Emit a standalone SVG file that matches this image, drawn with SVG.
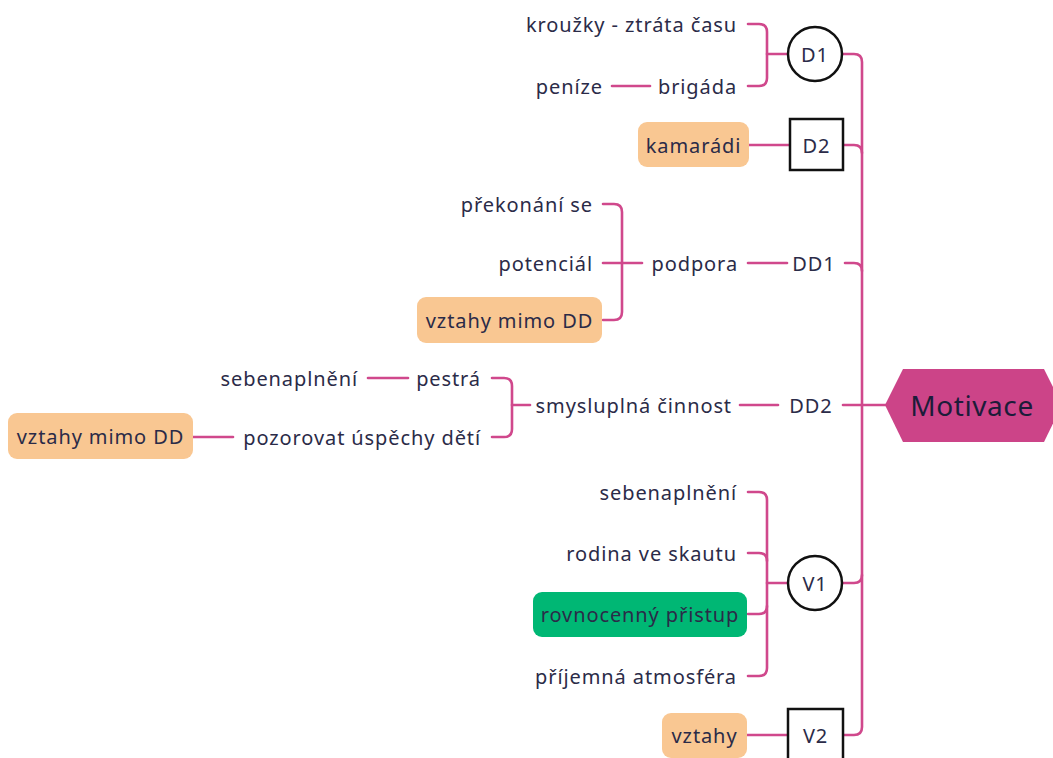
<svg xmlns="http://www.w3.org/2000/svg" width="1053" height="758" viewBox="0 0 1053 758">
<style>
text{font-family:"Noto Sans","Open Sans",sans-serif;font-size:20px;letter-spacing:0.9px;fill:#2b2b48;dominant-baseline:central}
.e{text-anchor:end}
.m{text-anchor:middle}
.c{fill:none;stroke:#d0488c;stroke-width:2.6;stroke-linecap:round;stroke-linejoin:round}
.org{fill:#f9c792}
.grn{fill:#00b774}
.bn{fill:#fff;stroke:#111;stroke-width:2.5}
</style>
<rect width="1053" height="758" fill="#fff"/>
<g id="connectors" class="c">
<path d="M842,54 H854 Q862,54 862,62 V727 Q862,735 854,735 H844"/>
<path d="M843,145 H854 Q862,145 862,153"/>
<path d="M845,263 H854 Q862,263 862,271"/>
<path d="M843,405 H886"/>
<path d="M842,583 H854 Q862,583 862,575"/>
<path d="M748,24 H759 Q767,24 767,32 V78 Q767,86 759,86 H748"/>
<path d="M767,54 H788"/>
<path d="M612,86 H650"/>
<path d="M749,145 H790"/>
<path d="M748,263 H787"/>
<path d="M603,204 H614 Q622,204 622,212 V312 Q622,320 614,320 H603"/>
<path d="M603,263 H642"/>
<path d="M740,405 H778"/>
<path d="M492,378 H504 Q512,378 512,386 V429 Q512,437 504,437 H492"/>
<path d="M512,405 H530"/>
<path d="M368,378 H408"/>
<path d="M193,437 H233"/>
<path d="M748,492 H759 Q767,492 767,500 V668 Q767,676 759,676 H748"/>
<path d="M748,553 H759 Q767,553 767,561"/>
<path d="M748,614 H759 Q767,614 767,606"/>
<path d="M767,583 H788"/>
<path d="M747,735 H788"/>
</g>
<g id="motivace">
<polygon points="885,405 903,369 1044,369 1062,405 1044,442 903,442" fill="#cc4488"/>
<text x="972" y="405" class="m" style="font-size:28px;letter-spacing:0.6px;fill:#1c1c3a">Motivace</text>
</g>
<g id="d1"><circle cx="815" cy="54" r="27" class="bn"/><text x="815" y="54" class="m">D1</text></g>
<g id="d1-krouzky"><text x="737" y="24" class="e">kroužky - ztráta času</text></g>
<g id="d1-brigada"><text x="737" y="86" class="e">brigáda</text></g>
<g id="d1-penize"><text x="603" y="86" class="e">peníze</text></g>
<g id="d2"><rect x="790" y="119" width="53" height="51" class="bn"/><text x="816.5" y="145" class="m">D2</text></g>
<g id="d2-kamaradi"><rect x="638" y="122" width="111" height="45" rx="9" class="org"/><text x="693.5" y="145" class="m">kamarádi</text></g>
<g id="dd1"><text x="814" y="263" class="m">DD1</text></g>
<g id="dd1-podpora"><text x="738" y="263" class="e">podpora</text></g>
<g id="dd1-prekonani"><text x="593" y="204" class="e">překonání se</text></g>
<g id="dd1-potencial"><text x="593" y="263" class="e">potenciál</text></g>
<g id="dd1-vztahy"><rect x="417" y="297" width="185" height="46" rx="9" class="org"/><text x="509.5" y="320" class="m">vztahy mimo DD</text></g>
<g id="dd2"><text x="811" y="405" class="m">DD2</text></g>
<g id="dd2-smysluplna"><text x="732" y="405" class="e">smysluplná činnost</text></g>
<g id="dd2-pestra"><text x="481" y="378" class="e">pestrá</text></g>
<g id="dd2-sebenaplneni"><text x="358" y="378" class="e">sebenaplnění</text></g>
<g id="dd2-pozorovat"><text x="481" y="437" class="e">pozorovat úspěchy dětí</text></g>
<g id="dd2-vztahy"><rect x="8" y="413" width="185" height="46" rx="9" class="org"/><text x="100.5" y="436" class="m">vztahy mimo DD</text></g>
<g id="v1"><circle cx="815" cy="583" r="27" class="bn"/><text x="815" y="583" class="m">V1</text></g>
<g id="v1-sebenaplneni"><text x="737" y="492" class="e">sebenaplnění</text></g>
<g id="v1-rodina"><text x="737" y="553" class="e">rodina ve skautu</text></g>
<g id="v1-rovnocenny"><rect x="533" y="592" width="214" height="45" rx="9" class="grn"/><text x="640" y="614" class="m">rovnocenný přistup</text></g>
<g id="v1-prijemna"><text x="737" y="676" class="e">příjemná atmosféra</text></g>
<g id="v2"><rect x="788" y="709" width="55" height="54" class="bn"/><text x="815.5" y="735" class="m">V2</text></g>
<g id="v2-vztahy"><rect x="662" y="713" width="85" height="45" rx="9" class="org"/><text x="704.5" y="735" class="m">vztahy</text></g>
</svg>
